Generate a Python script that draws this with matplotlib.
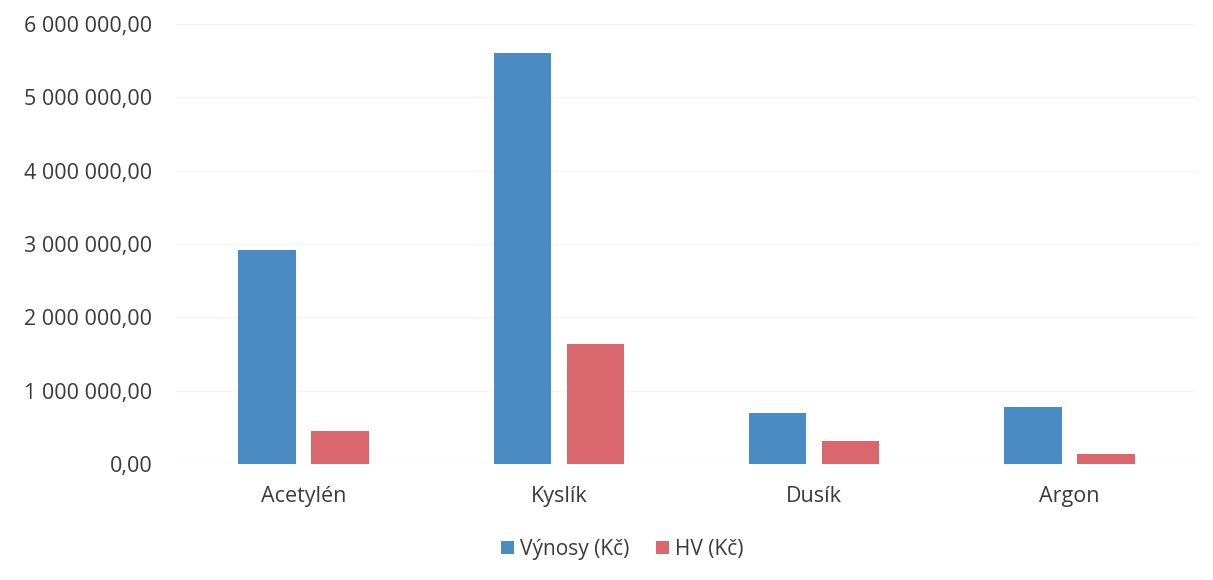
import matplotlib
matplotlib.use("Agg")
import matplotlib.pyplot as plt
from matplotlib.ticker import FuncFormatter
import numpy as np

categories = ["Acetylén", "Kyslík", "Dusík", "Argon"]
vynosy = [2920000, 5610000, 690000, 780000]
hv = [450000, 1640000, 320000, 130000]
series_labels = ["Výnosy (Kč)", "HV (Kč)"]

plt.rcParams["font.family"] = ["Open Sans", "DejaVu Sans"]

fig = plt.figure(figsize=(12.13, 5.8), dpi=100)
ax = fig.add_axes([0.145, 0.2, 0.842, 0.7586])

x = np.arange(len(categories))
w = 0.224
off = 0.143
ax.bar(x - off, vynosy, w, color="#4a8bc4", label=series_labels[0], zorder=2)
ax.bar(x + off, hv, w, color="#d9676d", label=series_labels[1], zorder=2)

ax.set_xlim(-0.5, len(categories) - 0.5)
ax.set_ylim(0, 6000000)
ax.set_yticks(np.arange(0, 6000001, 1000000))


def fmt(v, pos):
    s = "{:,.2f}".format(v).replace(",", " ").replace(".", ",")
    return s


ax.yaxis.set_major_formatter(FuncFormatter(fmt))
ax.set_xticks(x)
ax.set_xticklabels(categories)
ax.tick_params(axis="y", length=0, labelsize=15.5, colors="#3a3a3a", pad=17)
ax.tick_params(axis="x", length=0, labelsize=15.5, colors="#3a3a3a", pad=16)
ax.grid(axis="y", color="#f4f4f4", linewidth=1, zorder=0)
for s in ax.spines.values():
    s.set_visible(False)

fig.legend(loc="center", bbox_to_anchor=(0.513, 0.053), ncol=2, frameon=False,
           fontsize=15, handlelength=0.6, handleheight=0.6, handletextpad=0.3,
           columnspacing=1.3, labelcolor="#3a3a3a")

fig.savefig("out.png", dpi=100, facecolor="white")
